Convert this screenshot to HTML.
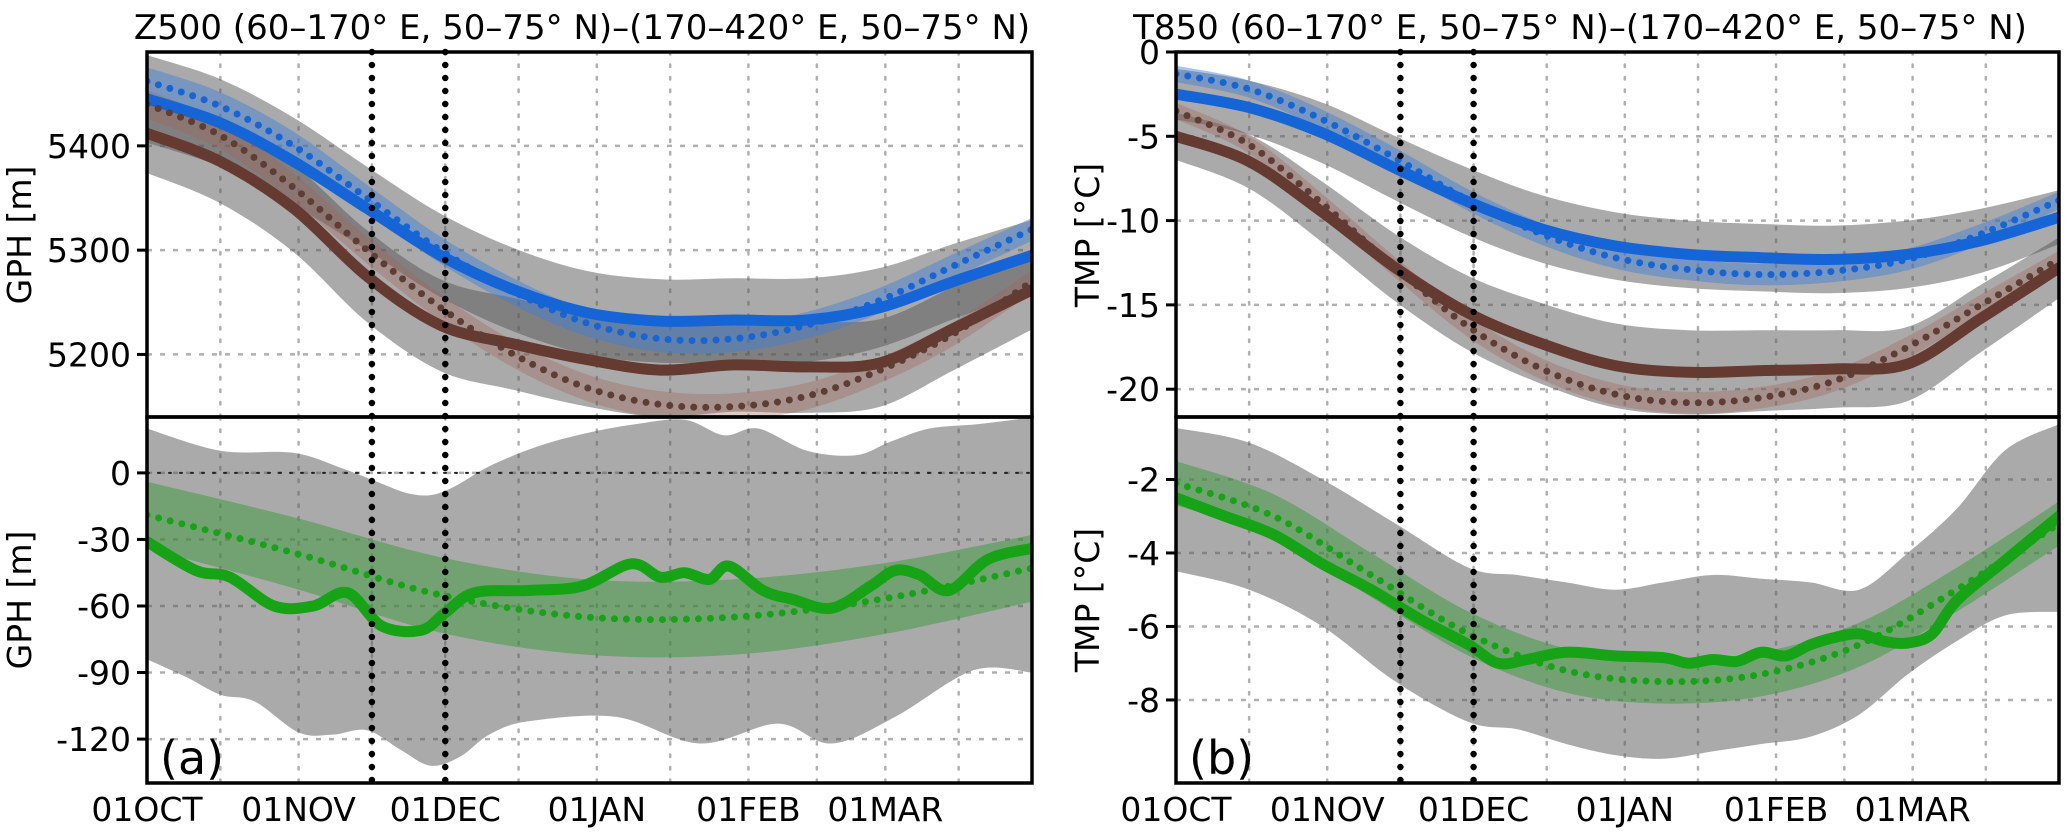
<!DOCTYPE html>
<html><head><meta charset="utf-8">
<style>
html,body{margin:0;padding:0;background:#fff;}
svg{display:block;font-family:"DejaVu Sans","Liberation Sans",sans-serif;}
</style></head>
<body>
<svg id="fig" width="2067" height="836" viewBox="0 0 2067 836" xmlns="http://www.w3.org/2000/svg">
<text x="582" y="39" font-size="34" text-anchor="middle">Z500 (60–170° E, 50–75° N)–(170–420° E, 50–75° N)</text>
<text x="1580" y="39" font-size="34" text-anchor="middle">T850 (60–170° E, 50–75° N)–(170–420° E, 50–75° N)</text>
<g id="plots"></g>
</svg>
<script>
// ---- shared x data ----
const monthLabels = ["01OCT","01NOV","01DEC","01JAN","01FEB","01MAR"];
const monthDays = [0,31,61,92,123,151];
const gridDays = [0,15,31,46,61,76,92,107,123,137,151,166];
const markerDays = [46,61];

// ---- panel a top: Z500 ----
const aTopDays = [0,15,30,45,60,75,90,105,120,135,150,165,181];
const aBlueSolid = [5445,5422,5385,5340,5295,5262,5240,5232,5233,5233,5245,5270,5295];
const aBlueDot   = [5462,5438,5400,5350,5300,5260,5230,5215,5215,5228,5252,5285,5320];
const aBlueSpread= [42,42,42,40,40,40,40,40,40,40,38,36,34];
const aBrownSolid= [5412,5385,5340,5275,5228,5210,5195,5185,5190,5188,5192,5225,5262];
const aBrownDot  = [5440,5410,5360,5300,5245,5200,5168,5152,5150,5160,5185,5220,5270];
const aBrownSpread=[38,40,42,44,44,44,45,45,45,44,42,40,38];
const aTopTicks = [5200,5300,5400];

// ---- panel a bottom: GPH difference ----
const aDiffDays = [0,10,17,26,34,41,48,56,61,67,78,89,99,105,110,115,119,126,132,140,148,153,158,164,172,181];
const aDiffSolid = [-31,-44,-47,-60,-60,-54,-69,-71,-63,-54,-53,-51,-41,-47,-45,-48,-42,-53,-57,-61,-51,-44,-46,-53,-39,-34];
const aClimDays = [0,30,60,90,120,150,181];
const aDiffDot = [-19,-36,-55,-65,-65,-57,-43];
const aDiffSpread = [15,16,17,17,17,16,15];
const aGreyUpDays = [0,15,30,40,47,53,58,63,70,80,90,100,110,118,125,135,145,152,160,170,181];
const aGreyUp = [20,10,9,2,-4,-9,-10,-6,3,12,18,22,24,17,20,10,8,14,20,22,25];
const aGreyLoDays = [0,8,15,22,31,38,45,52,58,64,70,78,96,113,129,140,153,169,181];
const aGreyLo = [-84,-92,-100,-103,-117,-118,-116,-125,-132,-128,-118,-112,-110,-122,-113,-122,-110,-89,-90];
const aBotTicks = [-120,-90,-60,-30,0];

// ---- panel b top: T850 ----
const bTopDays = [0,15,30,45,60,75,90,105,120,135,150,165,181];
const bBlueSolid = [-2.5,-3.3,-4.8,-6.9,-8.9,-10.5,-11.5,-12.0,-12.2,-12.3,-12.0,-11.2,-9.8];
const bBlueDot   = [-1.3,-2.2,-4.0,-6.3,-8.8,-10.8,-12.2,-12.9,-13.2,-13.0,-12.3,-10.8,-8.8];
const bBlueSpread= [1.5,1.6,1.8,1.9,2.0,2.0,2.0,2.0,2.0,2.0,2.0,1.9,1.6];
const bBrownSolid= [-5.0,-6.5,-9.5,-12.8,-15.5,-17.3,-18.6,-19.0,-18.9,-18.8,-18.5,-15.8,-12.8];
const bBrownDot  = [-3.5,-5.5,-9.0,-12.8,-16.3,-18.8,-20.3,-20.8,-20.5,-19.5,-17.5,-15.0,-12.3];
const bBrownSpread=[1.4,1.6,1.8,2.0,2.2,2.4,2.5,2.5,2.4,2.3,2.2,2.0,1.8];
const bTopTicks = [-20,-15,-10,-5,0];

// ---- panel b bottom: TMP difference ----
const bDiffDays = [0,10,20,30,40,50,60,66,72,80,90,100,105,110,115,120,125,130,135,140,145,150,155,160,170,181];
const bDiffSolid = [-2.5,-3.0,-3.5,-4.3,-5.0,-5.8,-6.5,-7.0,-6.9,-6.7,-6.8,-6.85,-7.0,-6.9,-6.95,-6.7,-6.8,-6.5,-6.3,-6.2,-6.4,-6.45,-6.2,-5.3,-4.2,-3.0];
const bClimDays = [0,20,40,60,80,100,120,140,160,181];
const bDiffDot = [-2.1,-3.0,-4.6,-6.2,-7.2,-7.5,-7.3,-6.5,-5.0,-3.2];
const bDiffSpread = [0.6,0.6,0.6,0.6,0.6,0.6,0.6,0.6,0.6,0.6];
const bGreyDays = [0,15,30,45,60,70,80,90,100,110,120,130,140,150,160,170,181];
const bGreyUp = [-0.6,-1.0,-2.0,-3.2,-4.4,-4.6,-4.8,-5.0,-4.8,-4.6,-4.7,-4.8,-5.0,-4.0,-2.8,-1.2,-0.5];
const bGreyLo = [-4.5,-5.0,-6.0,-7.5,-8.6,-8.8,-9.2,-9.5,-9.6,-9.4,-9.2,-9.0,-8.4,-7.3,-6.4,-5.7,-5.6];
const bBotTicks = [-8,-6,-4,-2];

const NS = "http://www.w3.org/2000/svg";
const root = document.getElementById("plots");
function mk(tag, attrs, parent){
  const e = document.createElementNS(NS, tag);
  for (const k in attrs) e.setAttribute(k, attrs[k]);
  (parent||root).appendChild(e);
  return e;
}
function smoothPts(pts){
  if(pts.length<2) return "";
  let d = "M"+pts[0][0].toFixed(1)+","+pts[0][1].toFixed(1);
  for(let i=0;i<pts.length-1;i++){
    const p0=pts[Math.max(0,i-1)],p1=pts[i],p2=pts[i+1],p3=pts[Math.min(pts.length-1,i+2)];
    const c1x=p1[0]+(p2[0]-p0[0])/6,c1y=p1[1]+(p2[1]-p0[1])/6;
    const c2x=p2[0]-(p3[0]-p1[0])/6,c2y=p2[1]-(p3[1]-p1[1])/6;
    d+=" C"+c1x.toFixed(1)+","+c1y.toFixed(1)+" "+c2x.toFixed(1)+","+c2y.toFixed(1)+" "+p2[0].toFixed(1)+","+p2[1].toFixed(1);
  }
  return d;
}
function makeAxes(x0,x1,y0,y1,vmin,vmax){
  return {
    x: d => x0 + (d/181)*(x1-x0),
    y: v => y1 - (v-vmin)/(vmax-vmin)*(y1-y0),
    x0,x1,y0,y1
  };
}
function linePath(ax,days,vals){ return smoothPts(days.map((d,i)=>[ax.x(d),ax.y(vals[i])])); }
function bandPath(ax,daysU,up,daysL,lo){
  const u = daysU.map((d,i)=>[ax.x(d),ax.y(up[i])]);
  const l = daysL.map((d,i)=>[ax.x(d),ax.y(lo[i])]).reverse();
  const du = smoothPts(u);
  const dl = smoothPts(l).replace(/^M/,"L");
  return du+" "+dl+" Z";
}
function addArr(a,b,s){ return a.map((v,i)=>v+s*b[i]); }

function gridAndTicks(ax,ticks,g,fmt){
  ticks.forEach(t=>{
    const yy=ax.y(t);
    const gl=mk("line",{x1:ax.x0,x2:ax.x1,y1:yy,y2:yy,stroke:"#b0b0b0","stroke-width":2.5,"stroke-dasharray":"5 8"},g);
    
    
    const tk=mk("line",{x1:ax.x0-10,x2:ax.x0,y1:yy,y2:yy,stroke:"#000","stroke-width":3},g);
    
    
    const tl=mk("text",{x:ax.x0-16,y:yy+12,"font-size":33,"text-anchor":"end"},g);
    tl.textContent = fmt(t);
    
    
  });
}
function vgrid(ax,g){
  gridDays.forEach(d=>{
    const vl=mk("line",{x1:ax.x(d),x2:ax.x(d),y1:ax.y0,y2:ax.y1,stroke:"#b0b0b0","stroke-width":2.5,"stroke-dasharray":"2.5 10","stroke-linecap":"round"},g);
    
    
  });
}
function drawSeries(ax,g,days,vals,color,dotted,name){
  const p=mk("path",{d:linePath(ax,days,vals),fill:"none",stroke:color,"stroke-width":dotted?7:11,"stroke-linecap":"round","stroke-linejoin":"round"},g);
  if(dotted) p.setAttribute("stroke-dasharray","0 12");
  
  
}
function drawBand(ax,g,dU,up,dL,lo,fill,op,name){
  const p=mk("path",{d:bandPath(ax,dU,up,dL,lo),fill:fill,"fill-opacity":op,stroke:"none"},g);
  
  
}
function frame(ax,g,name){
  const r=mk("rect",{x:ax.x0,y:ax.y0,width:ax.x1-ax.x0,height:ax.y1-ax.y0,fill:"none",stroke:"#000","stroke-width":3.5},g);
  
  
}
function clip(ax,id){
  const cp=mk("clipPath",{id:id});
  mk("rect",{x:ax.x0,y:ax.y0,width:ax.x1-ax.x0,height:ax.y1-ax.y0},cp);
}

function climatePanel(ax,id,ticks,fmt,bS,bD,bSp,rS,rD,rSp,days){
  const g=mk("g",{});
  
  
  clip(ax,id+"-clip");
  vgrid(ax,g);
  gridAndTicks(ax,ticks,g,fmt);
  const c=mk("g",{"clip-path":"url(#"+id+"-clip)"},g);
  drawBand(ax,c,days,addArr(bS,bSp,1),days,addArr(bS,bSp,-1),"#555",0.5,"blue-spread-band");
  drawBand(ax,c,days,addArr(rS,rSp,1),days,addArr(rS,rSp,-1),"#555",0.5,"brown-spread-band");
  const sp = bSp.map(v=>v*0.32);
  drawBand(ax,c,days,addArr(bD,sp,1),days,addArr(bD,sp,-1),"#3f7fd8",0.45,"blue-clim-band");
  drawBand(ax,c,days,addArr(rD,sp,1),days,addArr(rD,sp,-1),"#a0645a",0.35,"brown-clim-band");
  drawSeries(ax,c,days,bS,"#1565d6",false,"blue-solid-line");
  drawSeries(ax,c,days,rS,"#653a30",false,"brown-solid-line");
  drawSeries(ax,c,days,bD,"#1565d6",true,"blue-dotted-line");
  drawSeries(ax,c,days,rD,"#5e3d35",true,"brown-dotted-line");
  frame(ax,g,id+"-frame");
  return g;
}
function diffPanel(ax,id,ticks,fmt,gUd,gU,gLd,gL,solD,sol,climD,dot,spr,zero){
  const g=mk("g",{});
  
  
  clip(ax,id+"-clip");
  vgrid(ax,g);
  gridAndTicks(ax,ticks,g,fmt);
  const c=mk("g",{"clip-path":"url(#"+id+"-clip)"},g);
  drawBand(ax,c,gUd,gU,gLd,gL,"#555",0.5,"grey-spread-band");
  drawBand(ax,c,climD,addArr(dot,spr,1),climD,addArr(dot,spr,-1),"#3a9a3a",0.5,"green-clim-band");
  if(zero){
    const z=mk("line",{x1:ax.x0,x2:ax.x1,y1:ax.y(0),y2:ax.y(0),stroke:"#222","stroke-width":2,"stroke-dasharray":"2 9","stroke-linecap":"round"},c);
    
    
  }
  drawSeries(ax,c,solD,sol,"#16a316",false,"green-solid-line");
  drawSeries(ax,c,climD,dot,"#16a316",true,"green-dotted-line");
  frame(ax,g,id+"-frame");
  return g;
}
function markers(ax,y0,y1){
  markerDays.forEach(d=>{
    const l=mk("line",{x1:ax.x(d),x2:ax.x(d),y1:y0,y2:y1,stroke:"#000","stroke-width":6.5,"stroke-dasharray":"0 13","stroke-linecap":"round"});
    
    
  });
}
function xlabels(ax){
  monthDays.forEach((d,i)=>{
    const t=mk("text",{x:ax.x(d),y:821,"font-size":33,"text-anchor":"middle"});
    t.textContent=monthLabels[i];
    
    
  });
}
function ylab(x,y,txt,name){
  const t=mk("text",{x:x,y:y,"font-size":33,"text-anchor":"middle",transform:"rotate(-90 "+x+" "+y+")"});
  t.textContent=txt;
  
  
}

// Panel a
const aT = makeAxes(147,1032,52,417,5140,5490);
const aB = makeAxes(147,1032,417,783,-139.8,25.2);
climatePanel(aT,"panel-a-top",aTopTicks,v=>String(v),aBlueSolid,aBlueDot,aBlueSpread,aBrownSolid,aBrownDot,aBrownSpread,aTopDays);
diffPanel(aB,"panel-a-bottom",aBotTicks,v=>String(v),aGreyUpDays,aGreyUp,aGreyLoDays,aGreyLo,aDiffDays,aDiffSolid,aClimDays,aDiffDot,aDiffSpread,true);
markers(aT,52,783);
xlabels(aT);
ylab(31,235,"GPH [m]","y-axis-title-a-top");
ylab(31,600,"GPH [m]","y-axis-title-a-bottom");

const bT = makeAxes(1176,2059,52,417,-21.65,0);
const bB = makeAxes(1176,2059,417,783,-10.26,-0.3);
climatePanel(bT,"panel-b-top",bTopTicks,v=>String(v),bBlueSolid,bBlueDot,bBlueSpread,bBrownSolid,bBrownDot,bBrownSpread,bTopDays);
diffPanel(bB,"panel-b-bottom",bBotTicks,v=>String(v),bGreyDays,bGreyUp,bGreyDays,bGreyLo,bDiffDays,bDiffSolid,bClimDays,bDiffDot,bDiffSpread,false);
markers(bT,52,783);
xlabels(bT);
ylab(1099,235,"TMP [°C]","y-axis-title-b-top");
ylab(1099,600,"TMP [°C]","y-axis-title-b-bottom");

const la=mk("text",{x:160,y:774,"font-size":46});
la.textContent="(a)";


const lb=mk("text",{x:1189,y:774,"font-size":46});
lb.textContent="(b)";


</script>
</body></html>
